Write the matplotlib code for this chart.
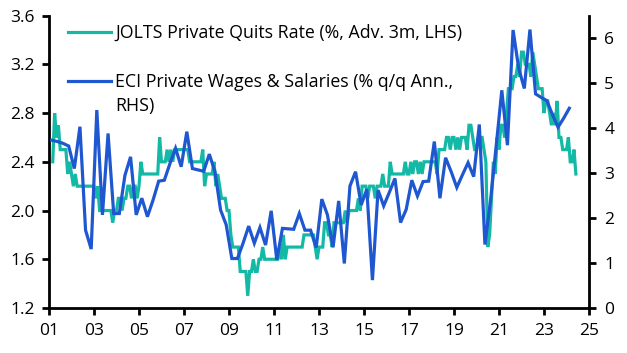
import numpy as np
import matplotlib
matplotlib.use("Agg")
import matplotlib.pyplot as plt
from matplotlib.lines import Line2D

plt.rcParams['font.family'] = ['Open Sans', 'DejaVu Sans']

# ---------------- data ----------------
# JOLTS private quits rate (%), advanced 3 months, monthly from Mar 2001 (plotted) to Jun 2024
jolts_start_year = 2001
jolts_start_month = 3
jolts_2001 = [2.4, 2.8, 2.6, 2.7, 2.5, 2.5, 2.5, 2.5, 2.3, 2.4]
jolts_2002 = [2.3, 2.2, 2.3, 2.2, 2.2, 2.2, 2.2, 2.2, 2.2, 2.2, 2.2, 2.2]
jolts_2003 = [2.2, 2.1, 2.2, 2.0, 2.0, 2.0, 2.0, 2.0, 2.0, 2.0, 1.9, 2.0]
jolts_2004 = [2.0, 2.1, 2.1, 2.0, 2.1, 2.1, 2.2, 2.2, 2.1, 2.2, 2.2, 2.1]
jolts_2005 = [2.2, 2.4, 2.3, 2.3, 2.3, 2.3, 2.3, 2.3, 2.3, 2.3, 2.3, 2.6]
jolts_2006 = [2.4, 2.4, 2.4, 2.5, 2.4, 2.5, 2.4, 2.5, 2.5, 2.5, 2.5, 2.5]
jolts_2007 = [2.5, 2.5, 2.5, 2.4, 2.4, 2.4, 2.4, 2.4, 2.4, 2.4, 2.5, 2.2]
jolts_2008 = [2.3, 2.3, 2.3, 2.3, 2.4, 2.2, 2.3, 2.2, 2.1, 2.1, 2.1, 2.0]
jolts_2009 = [2.0, 1.8, 1.7, 1.7, 1.7, 1.7, 1.5, 1.5, 1.5, 1.5, 1.3, 1.5]
jolts_2010 = [1.5, 1.6, 1.5, 1.5, 1.6, 1.6, 1.7, 1.6, 1.6, 1.6, 1.6, 1.6]
jolts_2011 = [1.6, 1.6, 1.6, 1.7, 1.6, 1.8, 1.6, 1.7, 1.7, 1.7, 1.7, 1.7]
jolts_2012 = [1.7, 1.7, 1.7, 1.7, 1.8, 1.8, 1.8, 1.8, 1.8, 1.8, 1.7, 1.6]
jolts_2013 = [1.7, 1.7, 1.7, 1.9, 1.9, 1.8, 1.8, 1.7, 1.9, 1.9, 1.9, 1.9]
jolts_2014 = [1.9, 1.9, 2.0, 1.9, 2.0, 2.0, 2.0, 2.0, 2.0, 2.1, 2.0, 2.2]
jolts_2015 = [2.2, 2.2, 2.1, 2.2, 2.2, 2.2, 2.1, 2.2, 2.2, 2.2, 2.3, 2.2]
jolts_2016 = [2.2, 2.2, 2.4, 2.3, 2.3, 2.3, 2.3, 2.3, 2.3, 2.3, 2.4, 2.3]
jolts_2017 = [2.3, 2.4, 2.3, 2.4, 2.4, 2.3, 2.4, 2.3, 2.4, 2.4, 2.4, 2.4]
jolts_2018 = [2.4, 2.4, 2.4, 2.3, 2.5, 2.5, 2.5, 2.5, 2.6, 2.6, 2.5, 2.6]
jolts_2019 = [2.6, 2.5, 2.6, 2.5, 2.6, 2.6, 2.6, 2.5, 2.7, 2.7, 2.6, 2.5]
jolts_2020 = [2.5, 2.6, 2.6, 2.6, 2.5, 2.4, 1.7, 1.8, 2.1, 2.4, 2.3, 2.6]
jolts_2021 = [2.5, 2.7, 2.7, 2.6, 2.8, 3.0, 3.0, 3.0, 3.1, 3.1, 3.2, 3.1]
jolts_2022 = [3.3, 3.3, 3.2, 3.2, 3.2, 3.1, 3.3, 3.2, 3.1, 3.0, 3.0, 3.0]
jolts_2023 = [2.8, 2.9, 2.9, 2.8, 2.7, 2.8, 2.7, 2.9, 2.6, 2.6, 2.5, 2.5]
jolts_2024 = [2.5, 2.6, 2.4, 2.4, 2.5, 2.3]

jolts = (jolts_2001 + jolts_2002 + jolts_2003 + jolts_2004 + jolts_2005 + jolts_2006
         + jolts_2007 + jolts_2008 + jolts_2009 + jolts_2010 + jolts_2011 + jolts_2012
         + jolts_2013 + jolts_2014 + jolts_2015 + jolts_2016 + jolts_2017 + jolts_2018
         + jolts_2019 + jolts_2020 + jolts_2021 + jolts_2022 + jolts_2023 + jolts_2024)

# ECI private wages & salaries (% q/q annualised), quarterly 2001Q1 - 2024Q1
eci_start_year = 2001
eci = [3.73, 3.70, 3.66, 3.60,   # 2001
       3.10, 4.03, 1.73, 1.31,   # 2002
       4.40, 2.07, 3.88, 2.10,   # 2003
       2.10, 2.95, 3.36, 2.07,   # 2004
       2.44, 2.03, 2.40, 2.82,   # 2005
       2.84, 3.21, 3.55, 3.14,   # 2006
       3.92, 3.10, 3.07, 3.04,   # 2007
       3.42, 3.03, 2.18, 1.85,   # 2008
       1.10, 1.10, 1.44, 1.82,   # 2009
       1.44, 1.79, 1.40, 2.16,   # 2010
       1.07, 1.77, 1.76, 1.75,   # 2011
       2.10, 1.73, 1.73, 1.34,   # 2012
       2.42, 2.07, 1.35, 2.38,   # 2013
       0.99, 2.71, 3.03, 2.29,   # 2014
       2.64, 0.62, 2.62, 2.27,   # 2015
       2.57, 2.88, 1.90, 2.19,   # 2016
       2.84, 2.49, 2.81, 2.82,   # 2017
       3.70, 2.44, 3.34, 3.03,   # 2018
       2.68, 2.96, 3.23, 2.92,   # 2019
       4.08, 1.41, 2.40, 3.60,   # 2020
       4.84, 3.62, 6.18, 5.33,   # 2021
       4.88, 6.19, 4.76, 4.68,   # 2022
       4.61, 4.30, 4.02, 4.22,   # 2023
       4.44]                     # 2024

x_tick_years = list(range(2001, 2026, 2))
x_tick_labels = ["%02d" % (y % 100) for y in x_tick_years]
left_ticks = [1.2, 1.6, 2.0, 2.4, 2.8, 3.2, 3.6]
right_ticks = [0, 1, 2, 3, 4, 5, 6]

label_jolts = "JOLTS Private Quits Rate (%, Adv. 3m, LHS)"
label_eci_1 = "ECI Private Wages & Salaries (% q/q Ann.,"
label_eci_2 = "RHS)"

# ---------------- positions ----------------
t_jolts = jolts_start_year + (jolts_start_month - 1 + np.arange(len(jolts))) / 12.0
t_eci = eci_start_year + 0.125 + 0.25 * np.arange(len(eci))

teal = "#14B9A6"
blue = "#1F57D0"

fig = plt.figure(figsize=(6.27, 3.53), dpi=100)
ax = fig.add_axes([49 / 627, 45 / 353, 540 / 627, (308 - 15.6) / 353])
ax2 = ax.twinx()

ax.plot(t_jolts, jolts, color=teal, lw=2.3, solid_joinstyle='miter')
ax2.plot(t_eci, eci, color=blue, lw=2.3, solid_joinstyle='miter')

ax.set_xlim(2001, 2025)
ax.set_ylim(1.2, 3.6)
ax2.set_ylim(0, 6.5)
ax.set_xticks(x_tick_years)
ax.set_xticklabels(x_tick_labels)
ax.set_yticks(left_ticks)
ax.set_yticklabels(["%.1f" % v for v in left_ticks])
ax2.set_yticks(right_ticks)

fs = 12.5
lfs = 12.8
for a in (ax, ax2):
    a.spines['top'].set_visible(False)
    for s in ('left', 'right', 'bottom'):
        a.spines[s].set_linewidth(2.0)
        a.spines[s].set_color('black')
    a.tick_params(axis='both', width=2.0, length=5, labelsize=fs, colors='black', direction='out')
ax.spines['right'].set_visible(False)
ax2.spines['left'].set_visible(False)
ax2.spines['bottom'].set_visible(False)
ax.tick_params(axis='y', pad=5)
ax2.tick_params(axis='y', pad=6)
ax.tick_params(axis='x', pad=6)

handles = [Line2D([], [], color=teal, lw=2.3), Line2D([], [], color=blue, lw=2.3)]
leg = ax2.legend(handles, [label_jolts, label_eci_1], loc='upper left',
                 bbox_to_anchor=(0.035, 0.972), frameon=False, fontsize=lfs,
                 handlelength=2.45, handletextpad=0.2, labelspacing=1.75,
                 borderpad=0.0, borderaxespad=0.0)

fig.canvas.draw()
tb = leg.get_texts()[1].get_window_extent()
inv = fig.transFigure.inverted()
x0, y0 = inv.transform((tb.x0, tb.y0))
fig.text(x0, y0 - 6 / 353, label_eci_2, fontsize=lfs, va='top', ha='left')

fig.savefig("out.png", dpi=100)
